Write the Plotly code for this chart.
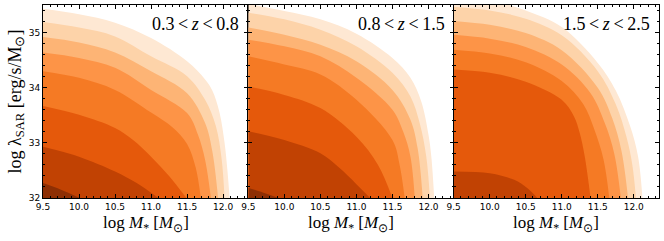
import plotly.graph_objects as go
from plotly.subplots import make_subplots

# Redshift bins (panel labels)
z_bins = ["0.3\u2009&lt;\u2009<i>z</i>\u2009&lt;\u20090.8",
          "0.8\u2009&lt;\u2009<i>z</i>\u2009&lt;\u20091.5",
          "1.5\u2009&lt;\u2009<i>z</i>\u2009&lt;\u20092.5"]

# Filled-contour band colours (lightest -> darkest)
band_colors = ["#fee8d3", "#fdd3a9", "#fdb475", "#fd9447",
               "#f57a24", "#e5590b", "#c14203", "#8e2f04"]

x_ticks = [9.5, 10.0, 10.5, 11.0, 11.5, 12.0]
y_ticks = [32, 33, 34, 35]

# Contour boundaries (log M*, log lambda_SAR).
# Boundary i separates band i (above/right) from band i+1 (below/left).
p1_x = [
    [9.5, 10.0, 10.5, 11.0, 11.5, 11.75, 11.85, 11.95, 12.02, 12.06, 12.09],
    [9.5, 10.0, 10.5, 11.0, 11.5, 11.75, 11.9, 11.98, 12.02],
    [9.5, 10.0, 10.5, 11.0, 11.5, 11.75, 11.85, 11.93],
    [9.5, 10.0, 10.5, 11.0, 11.5, 11.65, 11.75, 11.83],
    [9.5, 10.0, 10.5, 11.0, 11.3, 11.5, 11.62, 11.69],
    [9.5, 10.0, 10.5, 10.75, 11.0, 11.25, 11.49],
    [9.5, 10.0, 10.5, 10.8, 11.1],
    [9.5, 9.75, 10.01],
]
p1_y = [
    [35.43, 35.33, 35.18, 34.90, 34.48, 34.15, 33.95, 33.55, 33.00, 32.50, 32.0],
    [35.19, 35.09, 34.93, 34.57, 34.21, 33.78, 33.30, 32.70, 32.0],
    [34.92, 34.82, 34.64, 34.30, 33.90, 33.36, 32.85, 32.0],
    [34.64, 34.54, 34.36, 33.96, 33.54, 33.15, 32.69, 32.0],
    [34.30, 34.18, 33.96, 33.55, 33.28, 32.98, 32.55, 32.0],
    [33.67, 33.51, 33.27, 33.05, 32.75, 32.40, 32.0],
    [32.93, 32.75, 32.48, 32.27, 32.0],
    [32.27, 32.15, 32.0],
]

p2_x = [
    [9.5, 10.0, 10.5, 11.0, 11.5, 11.75, 11.9, 12.0, 12.04, 12.08],
    [9.5, 10.0, 10.5, 11.0, 11.5, 11.75, 11.88, 11.97, 12.02],
    [9.5, 10.0, 10.5, 11.0, 11.5, 11.75, 11.85, 11.92],
    [9.5, 10.0, 10.5, 11.0, 11.5, 11.65, 11.75, 11.81],
    [9.5, 10.0, 10.5, 11.0, 11.5, 11.6, 11.67],
    [9.5, 10.0, 10.5, 11.0, 11.3, 11.5],
    [9.5, 10.0, 10.5, 10.75, 11.0, 11.19],
    [9.5, 9.7, 9.92],
]
p2_y = [
    [35.52, 35.39, 35.24, 34.98, 34.54, 34.18, 33.75, 33.15, 32.75, 32.0],
    [35.36, 35.24, 35.05, 34.75, 34.27, 33.84, 33.35, 32.75, 32.0],
    [35.09, 34.96, 34.78, 34.48, 33.96, 33.42, 32.90, 32.0],
    [34.87, 34.75, 34.57, 34.18, 33.60, 33.20, 32.75, 32.0],
    [34.57, 34.42, 34.24, 33.78, 33.05, 32.60, 32.0],
    [34.02, 33.87, 33.63, 33.11, 32.60, 32.0],
    [33.21, 33.05, 32.81, 32.56, 32.25, 32.0],
    [32.18, 32.10, 32.0],
]

p3_x = [
    [9.5, 10.0, 10.5, 11.0, 11.5, 11.75, 11.95, 12.06, 12.12],
    [9.5, 10.0, 10.5, 11.0, 11.5, 11.75, 11.9, 11.98, 12.03],
    [9.5, 10.0, 10.5, 11.0, 11.5, 11.7, 11.83, 11.92],
    [9.5, 10.0, 10.5, 11.0, 11.4, 11.6, 11.73, 11.82],
    [9.5, 10.0, 10.5, 11.0, 11.3, 11.45, 11.58, 11.66],
    [9.5, 10.0, 10.5, 11.0, 11.17, 11.25, 11.32, 11.40],
    [9.5, 10.0, 10.34, 10.52, 10.66],
]
p3_y = [
    [35.75, 35.60, 35.40, 35.10, 34.45, 33.95, 33.30, 32.75, 32.0],
    [35.47, 35.40, 35.25, 34.95, 34.30, 33.70, 33.10, 32.60, 32.0],
    [35.21, 35.14, 34.99, 34.68, 34.00, 33.45, 32.85, 32.0],
    [34.96, 34.89, 34.74, 34.42, 33.90, 33.35, 32.80, 32.0],
    [34.69, 34.62, 34.46, 34.12, 33.70, 33.25, 32.70, 32.0],
    [34.33, 34.27, 34.11, 33.78, 33.48, 33.18, 32.75, 32.0],
    [32.48, 32.45, 32.33, 32.18, 32.0],
]

panels_x = [p1_x, p2_x, p3_x]
panels_y = [p1_y, p2_y, p3_y]

fig = make_subplots(rows=1, cols=3, shared_yaxes=True, horizontal_spacing=0)

for col, (bx, by) in enumerate(zip(panels_x, panels_y), start=1):
    for i, (xs, ys) in enumerate(zip(bx, by)):
        fig.add_trace(go.Scatter(
            x=xs, y=ys, mode="lines", fill="tozeroy",
            line=dict(width=0, shape="spline", smoothing=1.0),
            fillcolor=band_colors[i], hoverinfo="skip", showlegend=False,
        ), row=1, col=col)

serif = "Liberation Serif"
axis_common = dict(
    showline=True, linecolor="black", linewidth=1, mirror="allticks",
    ticks="inside", ticklen=4, tickwidth=1, tickcolor="black",
    showgrid=False, zeroline=False, automargin=False,
    tickfont=dict(family="DejaVu Sans", size=9, color="black"),
)

for col in range(1, 4):
    sfx = "" if col == 1 else str(col)
    fig.update_xaxes(
        range=[9.5, 12.35], tickvals=x_ticks,
        ticktext=[f"{v:.1f}" for v in x_ticks],
        minor=dict(ticks="inside", dtick=0.1, tick0=9.5, ticklen=2,
                   tickcolor="black", showgrid=False),
        row=1, col=col, **axis_common)
    fig.update_yaxes(
        range=[32, 35.5], tickvals=y_ticks,
        minor=dict(ticks="inside", dtick=0.2, tick0=32, ticklen=2,
                   tickcolor="black", showgrid=False),
        showticklabels=(col == 1),
        row=1, col=col, **axis_common)
    # panel redshift label
    fig.add_annotation(
        text=z_bins[col - 1], xref=f"x{sfx} domain", yref=f"y{sfx} domain",
        x=1, y=1, xshift=-7, yshift=-7, xanchor="right", yanchor="top",
        showarrow=False, font=dict(family=serif, size=18, color="black"))
    # x-axis title
    fig.add_annotation(
        text="log <i>M</i><sub>*</sub> [<i>M</i><sub>⊙</sub>]",
        xref=f"x{sfx} domain", yref=f"y{sfx} domain",
        x=0.5, y=0, yshift=-26, xanchor="center", yanchor="middle",
        showarrow=False, font=dict(family=serif, size=17, color="black"))

# y-axis title
fig.add_annotation(
    text="log λ<sub>SAR</sub> [erg/s/M<sub>⊙</sub>]",
    xref="x domain", yref="y domain", x=0, y=0.5, xshift=-27,
    xanchor="center", yanchor="middle", textangle=-90, showarrow=False,
    font=dict(family=serif, size=18, color="black"))

fig.update_layout(
    width=664, height=241,
    margin=dict(l=43, r=5, t=5, b=43, autoexpand=False),
    paper_bgcolor="white", plot_bgcolor="white",
)

fig.write_html(
    "out.html",
    config={"displayModeBar": False, "staticPlot": True},
    post_script="document.body.style.margin='0';document.body.style.overflow='hidden';",
)
